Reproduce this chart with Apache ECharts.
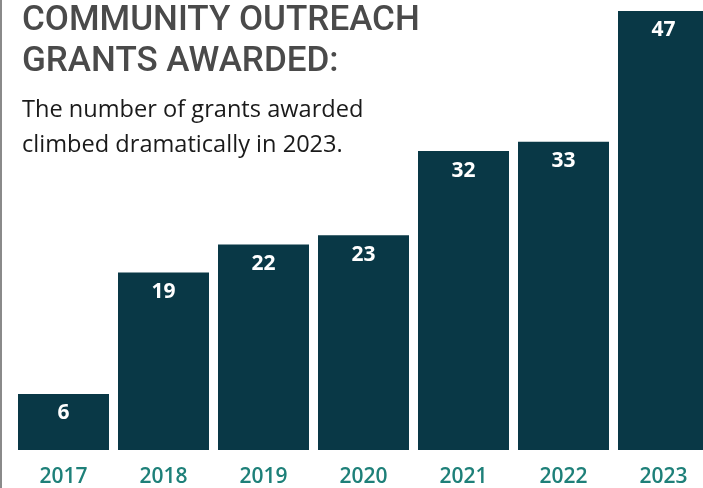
<!DOCTYPE html>
<html><head><meta charset="utf-8">
<script src="https://cdn.jsdelivr.net/npm/echarts@6/dist/echarts.min.js"></script>
<style>html,body{margin:0;padding:0;background:#fff}#c{width:703px;height:488px}</style>
</head><body><div id="c"></div>
<script>
const categories = ['2017','2018','2019','2020','2021','2022','2023'];
const grants = [6, 19, 22, 23, 32, 33, 47];
const titleLines = ['COMMUNITY OUTREACH', 'GRANTS AWARDED:'];
const subtitleLines = ['The number of grants awarded', 'climbed dramatically in 2023.'];

const chart = echarts.init(document.getElementById('c'), null, {renderer: 'canvas'});
chart.setOption({
  animation: false,
  backgroundColor: '#ffffff',
  title: {
    text: titleLines.join('\n'),
    subtext: subtitleLines.join('\n'),
    left: 17, top: -4,
    itemGap: 10,
    textStyle: {fontFamily: 'Roboto', fontWeight: 500, fontSize: 35, lineHeight: 41, color: '#4a4a4a'},
    subtextStyle: {fontFamily: 'Open Sans', fontWeight: 400, fontSize: 23.6, lineHeight: 35, color: '#1a1a1a'}
  },
  grid: {left: 13.5, width: 700, top: 11, bottom: 38, outerBoundsMode: 'none', containLabel: false},
  xAxis: {
    type: 'category', data: categories,
    axisLine: {show: false}, axisTick: {show: false},
    axisLabel: {margin: 17, fontFamily: 'Open Sans', fontWeight: 600, fontSize: 21, color: '#1e8079'}
  },
  yAxis: {type: 'value', min: 0, max: 47, show: false, splitLine: {show: false}},
  series: [{
    type: 'bar', data: grants, barCategoryGap: '9%',
    itemStyle: {color: '#093846'},
    label: {show: true, position: 'insideTop', distance: 9, color: '#ffffff',
      fontFamily: 'Open Sans', fontWeight: 700, fontSize: 21}
  }],
  graphic: [{type: 'rect', shape: {x: 0, y: 0, width: 2, height: 488}, style: {fill: '#8a8a8a'}}]
});
</script></body></html>
